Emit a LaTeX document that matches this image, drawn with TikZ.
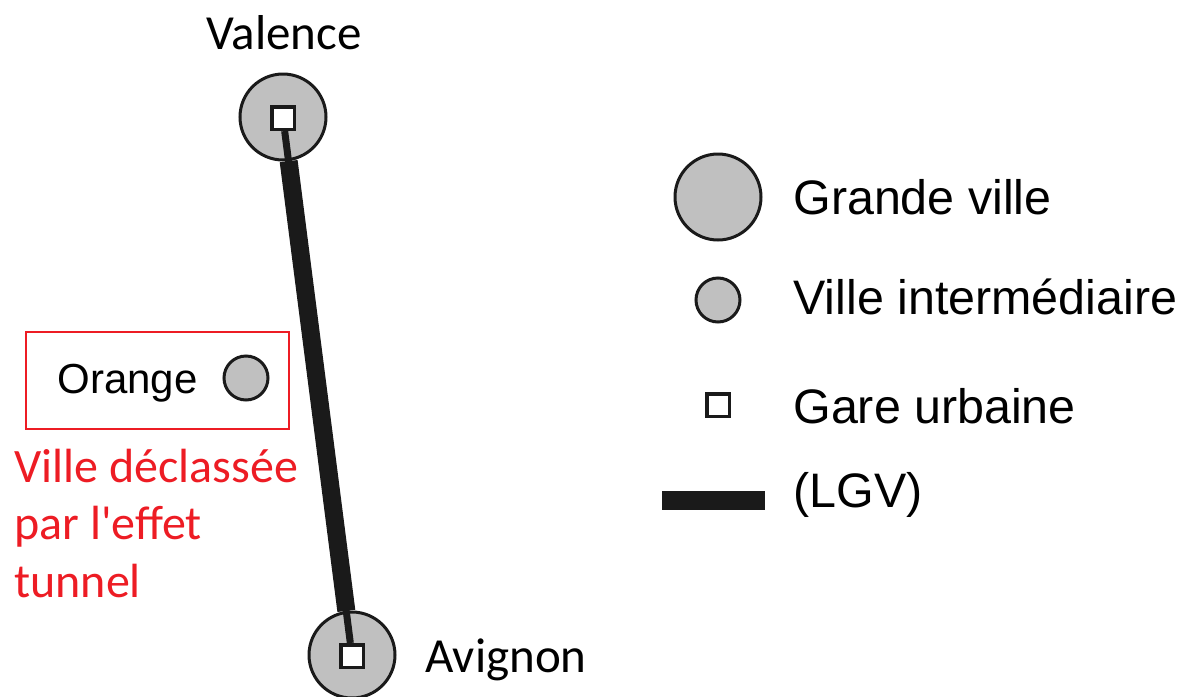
\documentclass[tikz,border=0pt]{standalone}
\usepackage{fontspec}
\setmainfont{Carlito}
\newfontfamily\arialfont{Liberation Sans}
\newfontfamily\notefont{Carlito}
\usetikzlibrary{positioning}

\definecolor{villegris}{RGB}{192,192,192}
\definecolor{trait}{RGB}{26,26,26}
\definecolor{rouge}{RGB}{237,28,36}

\tikzset{
  grandeville/.style={circle, draw=trait, fill=villegris, line width=1.5pt, minimum size=43pt, inner sep=0pt},
  villeinter/.style={circle, draw=trait, fill=villegris, line width=1.5pt, minimum size=22pt, inner sep=0pt},
  gare/.style={rectangle, draw=trait, fill=white, line width=1.75pt, minimum size=11.25pt, inner sep=0pt},
  lgv/.style={draw=trait, line width=9pt},
  lgvfin/.style={draw=trait, line width=3.5pt},
  legende/.style={font=\arialfont\fontsize{24.2}{28}\selectfont, anchor=base west, inner sep=0pt},
  ville/.style={font=\fontsize{24.5}{29}\selectfont, inner sep=0pt}
}

\begin{document}
\begin{tikzpicture}[x=0.5pt, y=-0.5pt]
   \useasboundingbox (0,0) rectangle (1185,697);
   % villes de la ligne
   \node[grandeville] (valence) at (283,117) {};
   \node[grandeville] (avignon) at (352,655) {};
   \node[gare] (garevalence) at (283,118) {};
   \node[gare] (gareavignon) at (352,656) {};
   \draw[lgvfin] (garevalence) -- (gareavignon);
   \draw[lgv] (valence) -- (avignon);
   \node[gare] at (garevalence) {};
   \node[gare] at (gareavignon) {};
   \node[ville, anchor=base] (nomvalence) at (284,49) {Valence};
   \node[ville, anchor=base west] (nomavignon) at (425,672) {Avignon};

   % ville declassee
   \draw[rouge, line width=1.25pt] (26,332) rectangle (289,429);
   \node[villeinter] (orange) at (246,378) {};
   \node[font=\arialfont\fontsize{21}{25}\selectfont, anchor=base west, inner sep=0pt] (nomorange) at (57,393) {Orange};
   \node[ville, rouge, anchor=base west, align=left, font=\notefont\fontsize{24}{28.75}\selectfont] (effet) at (14,597) {Ville déclassée\\par l'effet\\tunnel};

   % legende
   \node[grandeville] (legville) at (718,197) {};
   \node[villeinter] (leginter) at (718,300) {};
   \node[gare] (leggare) at (718,405) {};
   \coordinate (lgvA) at (662,500);
   \coordinate (lgvB) at (765,500);
   \draw[draw=trait, line width=9.5pt] (lgvA) -- (lgvB);
   \node[legende] (txtville) at (793,214) {Grande ville};
   \node[legende] (txtinter) at (793,314) {Ville intermédiaire};
   \node[legende] (txtgare) at (793,423) {Gare urbaine};
   \node[legende] (txtlgv) at (793,507) {(LGV)};
\end{tikzpicture}
\end{document}
